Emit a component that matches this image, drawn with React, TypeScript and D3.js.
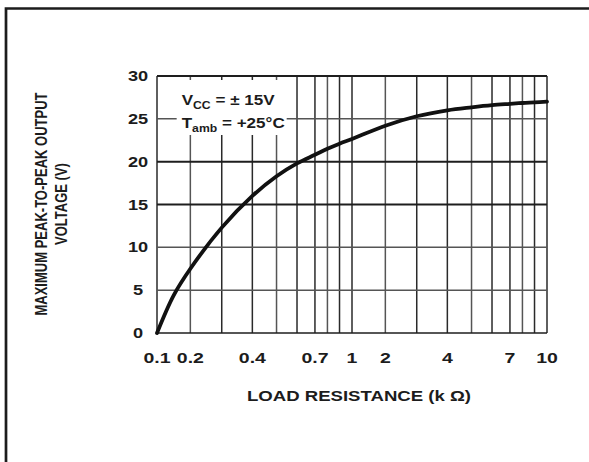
import { useEffect, useRef } from 'react';
import * as d3 from 'd3';

// load resistance (k ohm) and max peak-to-peak output (V)
const resistance = [0.1, 0.15, 0.2, 0.3, 0.4, 0.5, 0.6, 0.7, 0.8, 0.9, 1, 2, 3, 4, 5, 6, 7, 8, 9, 10];
const voltage = [0, 4.4, 7.5, 12.3, 16.0, 18.3, 19.8, 20.8, 21.5, 22.1, 22.65, 24.2, 25.3, 26.0, 26.35, 26.6, 26.75, 26.85, 26.92, 27.0];

const xGrid = [0.1, 0.2, 0.3, 0.4, 0.5, 0.6, 0.7, 0.8, 0.9, 1, 2, 3, 4, 5, 6, 7, 8, 9, 10];
const xTickLabels = ['0.1', '0.2', '0.4', '0.7', '1', '2', '4', '7', '10'];
const yTicks = [0, 5, 10, 15, 20, 25, 30];

// the printed graph paper is not a true log grid: position of 1..10 inside one decade
const mantissaSteps = [1, 2, 3, 4, 5, 6, 7, 8, 9, 10];
const mantissaFractions = [0, 0.171, 0.332, 0.489, 0.613, 0.718, 0.81, 0.874, 0.936, 1];

const FONT = "'Liberation Sans', Arial, Helvetica, sans-serif";
const INK = '#1c1c1c';

export default function App() {
  const svgRef = useRef<SVGSVGElement>(null);

  useEffect(() => {
    if (!svgRef.current) return;
    const width = 589;
    const height = 462;
    const margin = { top: 76, left: 157, right: 42, bottom: 129 };
    const innerWidth = width - margin.left - margin.right;
    const innerHeight = height - margin.top - margin.bottom;

    const svg = d3.select(svgRef.current);
    svg.selectAll('*').remove();
    svg.attr('width', width).attr('height', height).attr('viewBox', `0 0 ${width} ${height}`);

    svg.append('rect').attr('width', width).attr('height', height).attr('fill', '#fff');

    // page frame (left and top edges)
    svg.append('path')
      .attr('d', `M6,${height} L6,8.5 L${width},8.5`)
      .attr('fill', 'none')
      .attr('stroke', INK)
      .attr('stroke-width', 2.7);

    const mantissa = d3.scaleLinear().domain(mantissaSteps).range(mantissaFractions);
    const decades = 2;
    const x = (v: number) => {
      let dec = Math.floor(Math.log10(v / 0.1) + 1e-9);
      dec = Math.max(0, Math.min(decades - 1, dec));
      const m = v / (0.1 * Math.pow(10, dec));
      return ((dec + mantissa(m)) / decades) * innerWidth;
    };
    const y = d3.scaleLinear().domain([0, 30]).range([innerHeight, 0]);

    const g = svg.append('g').attr('transform', `translate(${margin.left}, ${margin.top})`);

    // grid
    g.selectAll('.vgrid')
      .data(xGrid)
      .join('line')
      .attr('class', 'vgrid')
      .attr('x1', (d) => x(d))
      .attr('x2', (d) => x(d))
      .attr('y1', 0)
      .attr('y2', innerHeight)
      .attr('stroke', (d, i) => (i % 3 === 1 ? '#555' : '#2a2a2a'))
      .attr('stroke-width', 1.5);

    g.selectAll('.hgrid')
      .data(yTicks)
      .join('line')
      .attr('class', 'hgrid')
      .attr('x1', 0)
      .attr('x2', innerWidth)
      .attr('y1', (d) => y(d))
      .attr('y2', (d) => y(d))
      .attr('stroke', (d) => (d === 15 || d === 20 || d === 0 || d === 30 ? '#1e1e1e' : '#555'))
      .attr('stroke-width', (d) => (d === 15 || d === 20 || d === 30 ? 2 : 1.5));

    // condition box
    const boxX = x(0.15) + 3;
    const boxY = 4;
    g.append('rect')
      .attr('x', boxX)
      .attr('y', boxY)
      .attr('width', 110)
      .attr('height', 55)
      .attr('fill', '#fff');

    const note = (ty: number, main: string, sub: string, rest: string) => {
      const t = g.append('g')
        .attr('transform', `translate(${boxX + 5}, ${ty}) scale(1.22, 1)`)
        .append('text')
        .attr('font-family', FONT)
        .attr('font-weight', 'bold')
        .attr('font-size', 14)
        .attr('fill', INK);
      t.append('tspan').text(main);
      t.append('tspan').attr('font-size', 10).attr('dy', 4).text(sub);
      t.append('tspan').attr('dy', -4).text(rest);
    };
    note(29, 'V', 'CC', ' = ± 15V');
    note(52, 'T', 'amb', '  = +25°C');

    // curve
    const line = d3.line<number>()
      .x((d) => x(d))
      .y((d, i) => y(voltage[i]))
      .curve(d3.curveCatmullRom.alpha(0.5));
    g.append('path')
      .attr('d', line(resistance) ?? '')
      .attr('fill', 'none')
      .attr('stroke', '#111')
      .attr('stroke-width', 3.8)
      .attr('stroke-linecap', 'round');

    // text helper: sx / sy stretch the glyphs like the scanned original
    const label = (
      parent: d3.Selection<SVGGElement, unknown, null, undefined>,
      tx: number,
      ty: number,
      text: string,
      size: number,
      sx: number,
      sy = 1,
      rotate = 0
    ) => {
      parent.append('g')
        .attr('transform', `translate(${tx}, ${ty}) rotate(${rotate}) scale(${sx}, ${sy})`)
        .append('text')
        .attr('text-anchor', 'middle')
        .attr('font-family', FONT)
        .attr('font-weight', 'bold')
        .attr('font-size', size)
        .attr('fill', INK)
        .text(text);
    };

    yTicks.forEach((d) => label(g, -19, y(d) + 5, String(d), 14, 1.3));
    xTickLabels.forEach((d) => label(g, x(Number(d)), innerHeight + 30, d, 15, 1.3));

    // axis titles
    const root = svg.append('g');
    label(root, 359, 401, 'LOAD RESISTANCE (k Ω)', 15, 1.24);
    label(root, 47, 204, 'MAXIMUM PEAK-TO-PEAK OUTPUT', 14, 0.93, 1.2, -90);
    label(root, 67, 204, 'VOLTAGE (V)', 14, 0.93, 1.2, -90);
  }, []);

  return (
    <div style={{ position: 'absolute', left: 0, top: 0 }}>
      <svg ref={svgRef} style={{ display: 'block' }} />
    </div>
  );
}
